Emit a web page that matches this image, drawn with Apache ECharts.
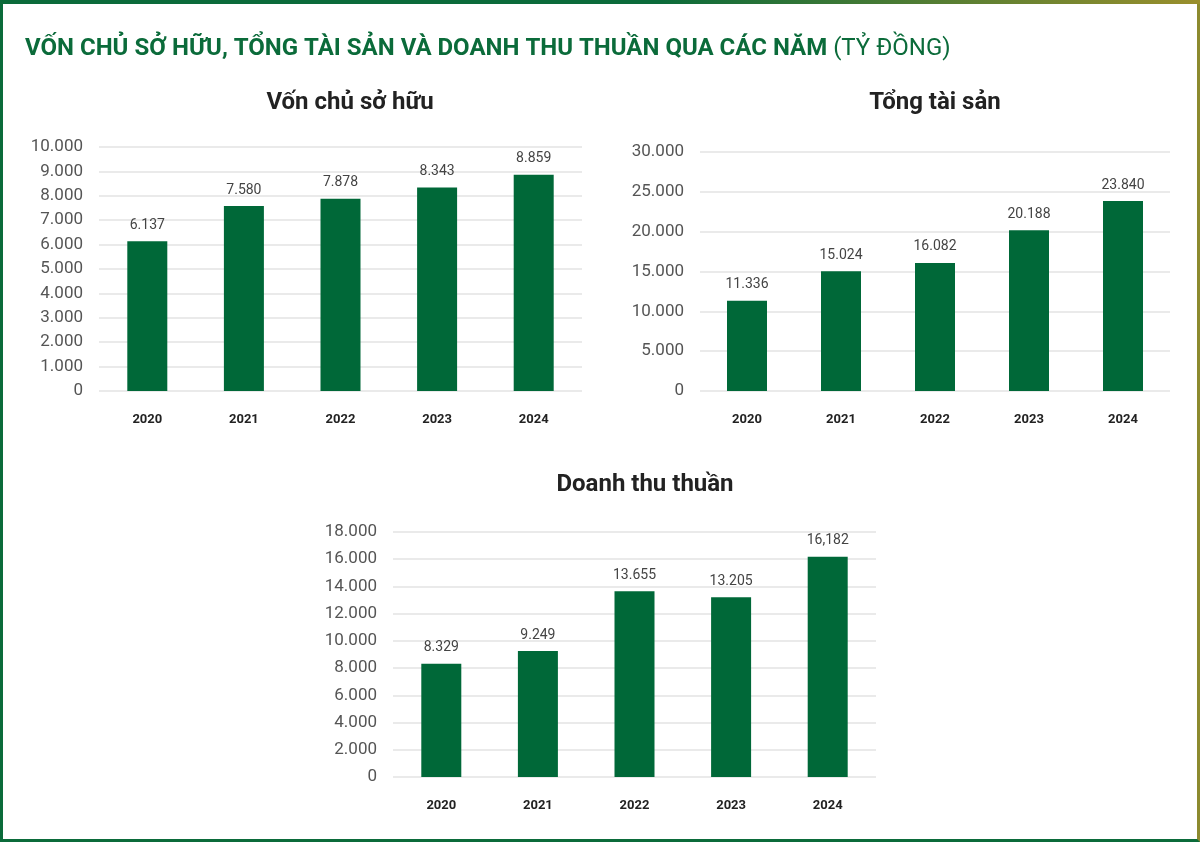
<!DOCTYPE html>
<html><head><meta charset="utf-8">
<script src="https://cdn.jsdelivr.net/npm/echarts@6/dist/echarts.min.js"></script>
<style>
html,body{margin:0;padding:0;background:#fff}
#frame{position:absolute;left:0;top:0;width:1200px;height:842px;box-sizing:border-box;border:3px solid #0b6b3a;border-right-color:#8c8a2e;}
#topbar{position:absolute;left:0;top:0;width:1200px;height:4px;background:linear-gradient(90deg,#0b6b3a,#0b6b3a 55%,#9a8f2c);}
#c{position:absolute;left:0;top:0;width:1200px;height:842px}
</style></head><body>
<div id="c"></div><div id="frame"></div><div id="topbar"></div>
<script>
const years = ['2020','2021','2022','2023','2024'];
const vonChuSoHuu = [6137, 7580, 7878, 8343, 8859];
const vonLabels = ['6.137','7.580','7.878','8.343','8.859'];
const tongTaiSan = [11336, 15024, 16082, 20188, 23840];
const tsLabels = ['11.336','15.024','16.082','20.188','23.840'];
const doanhThu = [8329, 9249, 13655, 13205, 16182];
const dtLabels = ['8.329','9.249','13.655','13.205','16,182'];

const green = '#006838';
const fmt = v => v === 0 ? '0' : v.toLocaleString('de-DE');
function xAx(i){return {type:'category',gridIndex:i,data:years,axisLine:{show:false},axisTick:{show:false},
  axisLabel:{color:'#222',fontWeight:'bold',fontSize:13,margin:22,fontFamily:'Roboto'}};}
function yAx(i,max,intv){return {type:'value',gridIndex:i,min:0,max:max,interval:intv,
  axisLabel:{color:'#555',fontSize:17,formatter:fmt,margin:16,fontFamily:'Roboto'},
  splitLine:{lineStyle:{color:'#e3e3e3',width:1.5}}};}
function ser(i,data,labels){return {type:'bar',xAxisIndex:i,yAxisIndex:i,data:data,barWidth:40,
  itemStyle:{color:green},
  label:{show:true,position:'top',distance:9,color:'#444',fontSize:14,fontFamily:'Roboto',
    formatter:p=>labels[p.dataIndex]}};}
const chart = echarts.init(document.getElementById('c'));
chart.setOption({
  animation:false,
  title:[
    {text:'VỐN CHỦ SỞ HỮU, TỔNG TÀI SẢN VÀ DOANH THU THUẦN QUA CÁC NĂM {n|(TỶ ĐỒNG)}',left:20,top:32,
     textStyle:{color:'#0b6b3a',fontSize:24,fontWeight:'bold',fontFamily:'Roboto',
     rich:{n:{color:'#0b6b3a',fontSize:24,fontWeight:'normal',fontFamily:'Roboto'}}}},
    {text:'Vốn chủ sở hữu',left:345,top:86,textAlign:'center',textStyle:{color:'#222',fontSize:24,fontWeight:'bold',fontFamily:'Roboto'}},
    {text:'Tổng tài sản',left:930,top:86,textAlign:'center',textStyle:{color:'#222',fontSize:24,fontWeight:'bold',fontFamily:'Roboto'}},
    {text:'Doanh thu thuần',left:640,top:468,textAlign:'center',textStyle:{color:'#222',fontSize:24,fontWeight:'bold',fontFamily:'Roboto'}}
  ],
  grid:[
    {left:99,top:147,width:483,height:244},
    {left:700,top:152,width:470,height:239},
    {left:393,top:532,width:483,height:245}
  ],
  xAxis:[xAx(0),xAx(1),xAx(2)],
  yAxis:[yAx(0,10000,1000),yAx(1,30000,5000),yAx(2,18000,2000)],
  series:[ser(0,vonChuSoHuu,vonLabels),ser(1,tongTaiSan,tsLabels),ser(2,doanhThu,dtLabels)]
});
</script></body></html>
